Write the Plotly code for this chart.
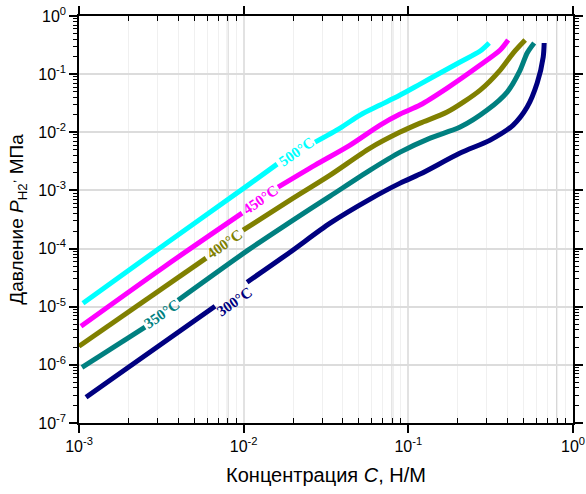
import numpy as np
import plotly.graph_objects as go

# Isotherms: hydrogen concentration C (H/M) vs. pressure P_H2 (MPa).
# None marks the break in each line where its temperature label sits.
temps = ["300°C", "350°C", "400°C", "450°C", "500°C"]
colors = ["#000080", "#008080", "#808000", "#FF00FF", "#00FFFF"]

c_300 = [1.103e-3, 1.543e-3, 6.70e-3, None, 1.049e-2, 1.913e-2, 3.35e-2, 5.86e-2,
         8.92e-2, 0.1179, 0.2064, 0.3141, 0.4331, 0.5268, 0.6059, 0.6592, 0.6683]
p_300 = [2.77e-7, 5.43e-7, 1.02e-5, None, 2.64e-5, 8.67e-5, 2.736e-4, 7.09e-4,
         1.335e-3, 1.909e-3, 4.39e-3, 7.34e-3, 1.33e-2, 2.71e-2, 7.03e-2, 0.1969, 0.343]

c_350 = [1.043e-3, 2.518e-3, None, 3.996e-3, 1.063e-2, 1.913e-2, 3.35e-2, 5.86e-2,
         8.92e-2, 0.1357, 0.2064, 0.3011, 0.3983, 0.4777, 0.5268, 0.581]
p_350 = [9.09e-7, 4.44e-6, None, 1.294e-5, 9.39e-5, 2.847e-4, 7.98e-4, 2.236e-3,
         4.56e-3, 7.95e-3, 1.229e-2, 2.41e-2, 4.92e-2, 0.1176, 0.2307, 0.343]

c_400 = [1.0e-3, 5.91e-3, None, 9.92e-3, 1.913e-2, 3.35e-2, 5.86e-2, 8.92e-2,
         0.1179, 0.1721, 0.2731, 0.3612, 0.4331, 0.5123]
p_400 = [2.09e-6, 6.84e-5, None, 2.07e-4, 6.81e-4, 1.834e-3, 5.35e-3, 1.008e-2,
         1.44e-2, 2.227e-2, 5.32e-2, 0.1176, 0.2307, 0.3864]

c_450 = [1.028e-3, 3.33e-3, 9.78e-3, None, 1.618e-2, 2.716e-2, 4.43e-2, 6.74e-2,
         8.92e-2, 0.1179, 0.1721, 0.2731, 0.3612, 0.404]
p_450 = [4.62e-6, 4.98e-5, 4.07e-4, None, 1.14e-3, 2.726e-3, 6.02e-3, 1.33e-2,
         2.057e-2, 2.94e-2, 5.76e-2, 0.1434, 0.2597, 0.3864]

c_500 = [1.057e-3, 3.33e-3, 1.063e-2, 1.596e-2, None, 2.716e-2, 3.853e-2, 5.095e-2,
         6.74e-2, 8.92e-2, 0.1179, 0.156, 0.2064, 0.2731, 0.3097]
p_500 = [1.149e-5, 1.19e-4, 1.234e-3, 2.836e-3, None, 6.78e-3, 1.181e-2, 1.977e-2,
         2.94e-2, 4.37e-2, 6.75e-2, 0.1044, 0.1615, 0.2497, 0.343]

curves_c = [c_300, c_350, c_400, c_450, c_500]
curves_p = [p_300, p_350, p_400, p_450, p_500]

# Where each temperature label is written along its curve
label_c = [8.745e-3, 3.17e-3, 7.66e-3, 1.258e-2, 2.082e-2]
label_p = [1.195e-5, 7.58e-6, 1.19e-4, 6.81e-4, 4.56e-3]

# Axis decades and tick labels
x_ticks = [1e-3, 1e-2, 1e-1, 1e0]
x_ticktext = ["10<sup>-3</sup>", "10<sup>-2</sup>", "10<sup>-1</sup>", "10<sup>0</sup>"]
y_ticks = [1e-7, 1e-6, 1e-5, 1e-4, 1e-3, 1e-2, 1e-1, 1e0]
y_ticktext = ["10<sup>-7</sup>", "10<sup>-6</sup>", "10<sup>-5</sup>", "10<sup>-4</sup>",
              "10<sup>-3</sup>", "10<sup>-2</sup>", "10<sup>-1</sup>", "10<sup>0</sup>"]

x_minor = [k * 10.0 ** n for n in range(-3, 0) for k in range(2, 10)]
y_minor = [k * 10.0 ** n for n in range(-7, 0) for k in range(2, 10)]
x_strong_grid = [8e-3, 8e-2, 8e-1]

fig = go.Figure()

for name, col, cs, ps in zip(temps, colors, curves_c, curves_p):
    fig.add_trace(go.Scatter(
        x=cs, y=ps, mode="lines", name=name,
        line=dict(color=col, width=5, shape="spline", smoothing=0.8),
        connectgaps=False, showlegend=False, hoverinfo="skip",
    ))

for name, col, lc, lp in zip(temps, colors, label_c, label_p):
    fig.add_annotation(
        x=np.log10(lc), y=np.log10(lp), xref="x", yref="y",
        text=f"<b>{name}</b>", showarrow=False, textangle=-35,
        font=dict(family="Liberation Serif", size=15, color=col),
        xanchor="center", yanchor="middle",
    )

for gx in x_strong_grid:
    fig.add_shape(type="line", xref="x", yref="paper", x0=gx, x1=gx, y0=0, y1=1,
                  line=dict(color="#d6d6d6", width=2), layer="below")

axis_common = dict(
    type="log", showline=True, linecolor="black", linewidth=1.5,
    mirror="allticks", ticks="outside", ticklen=8, tickwidth=1.5, tickcolor="black",
    tickfont=dict(family="Liberation Sans", size=16, color="black"),
    zeroline=False, automargin=False,
)

fig.update_xaxes(
    **axis_common,
    range=[-3, 0], tickvals=x_ticks, ticktext=x_ticktext,
    showgrid=True, gridcolor="#e2e2e2", gridwidth=1.5,
    minor=dict(tickvals=x_minor, ticks="inside", ticklen=5, tickwidth=1.2,
               tickcolor="black", showgrid=True, gridcolor="#f0f0f0", gridwidth=1),
    title=dict(text="Концентрация <i>C</i>, Н/М",
               font=dict(family="Liberation Sans", size=20, color="black"),
               standoff=14),
)

fig.update_yaxes(
    **axis_common,
    range=[-7, 0], tickvals=y_ticks, ticktext=y_ticktext,
    showgrid=True, gridcolor="#dcdcdc", gridwidth=1.5,
    minor=dict(tickvals=y_minor, ticks="outside", ticklen=4, tickwidth=1.2,
               tickcolor="black", showgrid=False),
    title=dict(text="Давление <i>P</i><sub>H2</sub><sup>,</sup> МПа",
               font=dict(family="Liberation Sans", size=19, color="black"),
               standoff=10),
)

fig.update_layout(
    width=586, height=494,
    margin=dict(l=79, r=13, t=16, b=71),
    paper_bgcolor="white", plot_bgcolor="white",
)

fig.write_html("out.html")
